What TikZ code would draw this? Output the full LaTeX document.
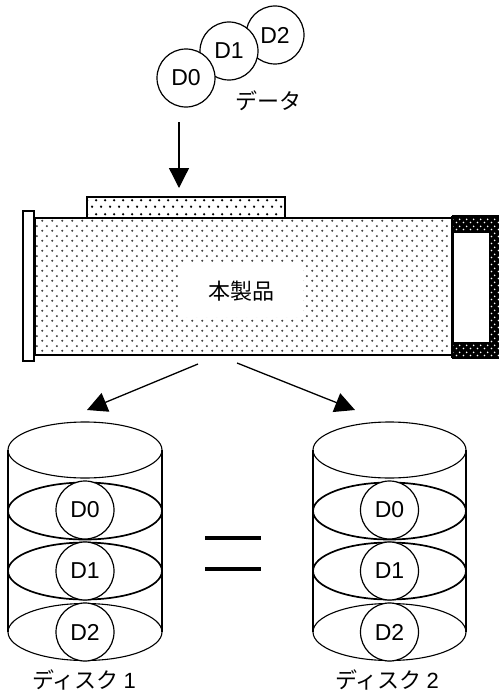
\documentclass[tikz,border=0pt]{standalone}
\usepackage{fontspec}
\setmainfont{Liberation Sans}
\newfontfamily\jpfont{Noto Sans CJK JP}
\newfontfamily\latinfont{Liberation Sans}
\usetikzlibrary{arrows.meta,patterns.meta}

% light staggered dots for the unit body
\pgfdeclarepattern{
  name=bodydots, type=uncolored,
  bottom left={\pgfpoint{0pt}{0pt}}, top right={\pgfpoint{10pt}{10pt}},
  tile size={\pgfpoint{10pt}{10pt}},
  code={
    \pgfpathcircle{\pgfpoint{2.5pt}{2.5pt}}{1.2pt}
    \pgfpathcircle{\pgfpoint{7.5pt}{7.5pt}}{1.2pt}
    \pgfusepath{fill}
  }
}
% denser dots for the slot on top
\pgfdeclarepattern{
  name=slotdots, type=uncolored,
  bottom left={\pgfpoint{0pt}{0pt}}, top right={\pgfpoint{9pt}{13.4pt}},
  tile size={\pgfpoint{9pt}{13.4pt}},
  code={
    \pgfpathcircle{\pgfpoint{2.25pt}{3.35pt}}{1.35pt}
    \pgfpathcircle{\pgfpoint{6.75pt}{10.05pt}}{1.35pt}
    \pgfusepath{fill}
  }
}
% white dots on the dark end cap
\pgfdeclarepattern{
  name=capdots, type=uncolored,
  bottom left={\pgfpoint{0pt}{0pt}}, top right={\pgfpoint{7pt}{7pt}},
  tile size={\pgfpoint{7pt}{7pt}},
  code={
    \pgfpathcircle{\pgfpoint{1.75pt}{1.75pt}}{1pt}
    \pgfpathcircle{\pgfpoint{5.25pt}{5.25pt}}{1pt}
    \pgfusepath{fill}
  }
}

\tikzset{
  datacircle/.style={circle, draw, line width=1.2pt, fill=white, minimum size=58pt,
    inner sep=0pt, font=\fontsize{23}{23}\selectfont},
  jplabel/.style={font=\jpfont\fontsize{22}{22}\selectfont, inner sep=0pt},
  flowarrow/.style={line width=1.3pt, -{Triangle[length=20pt,width=20pt]}},
  outline/.style={line width=1.4pt},
  diskline/.style={line width=1.1pt},
  platter/.style={line width=1.7pt},
}

\begin{document}
\begin{tikzpicture}[x=1pt,y=-1pt]
\useasboundingbox (0,0) rectangle (499,693);

% --- incoming data ---
\node[datacircle] (d2) at (275,35) {D2};
\node[datacircle] (d1) at (229,51) {D1};
\node[datacircle] (d0) at (186,78) {D0};
\node[jplabel] (datalabel) at (268,101) {データ};

\coordinate (inTop) at (179,122);
\coordinate (inTip) at (179,188);
\draw[flowarrow] (inTop) -- (inTip);

% --- the unit ---
\draw[outline, pattern=slotdots, pattern color=black] (87,197) rectangle (285,218);
\draw[outline, fill=white] (23,211) rectangle (34,361);
\draw[outline, pattern=bodydots, pattern color=black!75] (35,218) rectangle (452,355);
\fill[black] (452,216) rectangle (499,358);
\fill[pattern=capdots, pattern color=white] (452,216) rectangle (499,358);
\draw[outline] (452,216) -- (499,216) (452,358) -- (499,358) (452,216) -- (452,358);
\draw[line width=1pt, fill=white] (453,232) rectangle (489,342);
\node[jplabel, fill=white, minimum width=123pt, minimum height=52pt] (unit) at (241.5,291) {本製品};

% --- mirrored writes ---
\coordinate (outL) at (198,364);
\coordinate (outR) at (237,363);
\coordinate (tipL) at (87,410);
\coordinate (tipR) at (355,410);
\draw[flowarrow] (outL) -- (tipL);
\draw[flowarrow] (outR) -- (tipR);

% --- disks ---
\foreach \cx/\rx/\n in {85/77/1, 389.5/76.5/2}{
  \draw[diskline] (\cx-\rx,450) -- (\cx-\rx,632) (\cx+\rx,450) -- (\cx+\rx,632);
  \draw[diskline] (\cx,450) ellipse[x radius=\rx pt, y radius=28pt];
  \draw[platter] (\cx,511) ellipse[x radius=\rx pt, y radius=28.5pt];
  \draw[platter] (\cx,571) ellipse[x radius=\rx pt, y radius=28.5pt];
  \draw[diskline] (\cx,632) ellipse[x radius=\rx pt, y radius=28.5pt];
  \node[datacircle] (k\n d0) at (\cx,510) {D0};
  \node[datacircle] (k\n d1) at (\cx,571) {D1};
  \node[datacircle] (k\n d2) at (\cx,632) {D2};
}
\node[jplabel, anchor=base] (disk1) at (84,688) {ディスク {\latinfont 1}};
\node[jplabel, anchor=base] (disk2) at (387,688) {ディスク {\latinfont 2}};

% --- equality sign ---
\coordinate (eqA) at (205,538);
\coordinate (eqB) at (261,538);
\coordinate (eqC) at (205,569);
\coordinate (eqD) at (261,569);
\draw[line width=3.8pt] (eqA) -- (eqB) (eqC) -- (eqD);
\end{tikzpicture}
\end{document}
